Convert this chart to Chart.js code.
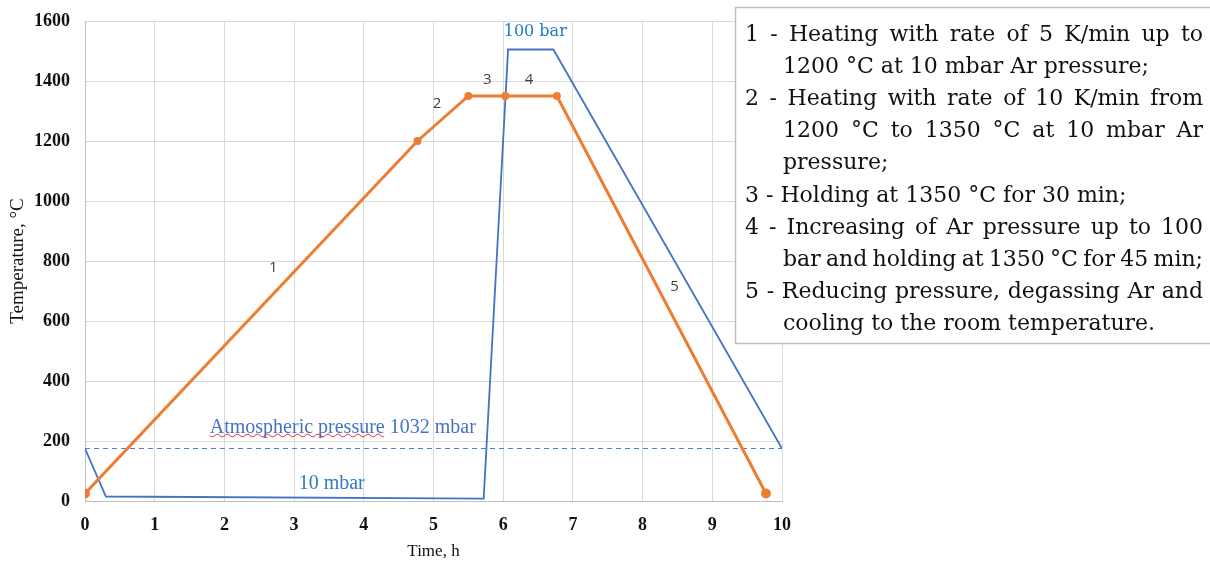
<!DOCTYPE html>
<html>
<head>
<meta charset="utf-8">
<script src="https://cdn.jsdelivr.net/npm/chart.js@4.4.1/dist/chart.umd.min.js"></script>
<style>
  html, body { margin: 0; padding: 0; background: #ffffff; }
  #wrap { width: 1210px; height: 562px; position: relative; }
</style>
</head>
<body>
<div id="wrap"><canvas id="c" width="1210" height="562"></canvas></div>
<script>
// ---------- data ----------
const xTicks = [0, 1, 2, 3, 4, 5, 6, 7, 8, 9, 10];
const yTicks = [0, 200, 400, 600, 800, 1000, 1200, 1400, 1600];

// temperature profile (orange)
const tempTime = [0, 4.77, 5.50, 6.03, 6.77, 9.77];
const tempValue = [25, 1200, 1350, 1350, 1350, 25];

// pressure profile (blue)
const pressTime = [0, 0.30, 5.72, 6.07, 6.72, 10];
const pressValue = [175, 15, 8, 1505, 1505, 175];

// atmospheric pressure level (dashed)
const atmTime = [0, 10];
const atmValue = [175, 175];

// stage numbers and their positions (data units)
const stageLabels = ["1", "2", "3", "4", "5"];
const stageX = [2.70, 5.05, 5.77, 6.37, 8.46];
const stageY = [777, 1324, 1404, 1404, 713];

// pressure annotations
const pressLabels = ["100 bar", "10 mbar", "Atmospheric pressure 1032 mbar"];
const pressLabelX = [6.46, 3.54, 1.79];
const pressLabelY = [1565, 59, 245];

// legend text
const legendLines = [
  "1 - Heating with rate of 5 K/min up to",
  "1200 °C at 10 mbar Ar pressure;",
  "2 - Heating with rate of 10 K/min from",
  "1200 °C to 1350 °C at 10 mbar Ar",
  "pressure;",
  "3 - Holding at 1350 °C for 30 min;",
  "4 - Increasing of Ar pressure up to 100",
  "bar and holding at 1350 °C for 45 min;",
  "5 - Reducing pressure, degassing Ar and",
  "cooling to the room temperature."
];
const legendIndent = [false, true, false, true, true, false, false, true, false, true];
const legendJustify = [true, false, true, true, false, false, true, true, true, false];

const toPts = (xs, ys) => xs.map((x, i) => ({ x: x, y: ys[i] }));

const SERIF = "'Liberation Serif', 'Times New Roman', serif";
const LEG_FONT = "'DejaVu Serif', serif";

const annotationPlugin = {
  id: 'annotations',
  afterDatasetsDraw(chart) {
    const ctx = chart.ctx;
    const xs = chart.scales.x, ys = chart.scales.y;
    ctx.save();
    // stage numbers
    ctx.font = "15px 'Open Sans', 'Liberation Sans', sans-serif";
    ctx.fillStyle = '#404040';
    ctx.textAlign = 'center';
    ctx.textBaseline = 'middle';
    stageLabels.forEach((t, i) => {
      ctx.fillText(t, xs.getPixelForValue(stageX[i]), ys.getPixelForValue(stageY[i]));
    });
    // 100 bar
    ctx.font = "16px " + LEG_FONT;
    ctx.fillStyle = '#1f78c8';
    ctx.fillText(pressLabels[0], xs.getPixelForValue(pressLabelX[0]), ys.getPixelForValue(pressLabelY[0]));
    // 10 mbar
    ctx.font = "20px " + SERIF;
    ctx.fillStyle = '#2e7bc4';
    ctx.fillText(pressLabels[1], xs.getPixelForValue(pressLabelX[1]), ys.getPixelForValue(pressLabelY[1]));
    // atmospheric
    ctx.textAlign = 'left';
    ctx.fillStyle = '#4472c4';
    const ax = xs.getPixelForValue(pressLabelX[2]);
    const ay = ys.getPixelForValue(pressLabelY[2]);
    ctx.fillText(pressLabels[2], ax, ay);
    // red wavy spell-check underline under the first two words
    const wavyW = ctx.measureText("Atmospheric pressure").width;
    ctx.strokeStyle = '#e02020';
    ctx.lineWidth = 1;
    ctx.beginPath();
    const wy = ay + 8;
    for (let px = 0; px <= wavyW; px += 1) {
      const yy = wy + 1.3 * Math.sin(px / 1.6);
      if (px === 0) ctx.moveTo(ax + px, yy); else ctx.lineTo(ax + px, yy);
    }
    ctx.stroke();
    ctx.restore();
  },
  afterDraw(chart) {
    const ctx = chart.ctx;
    ctx.save();
    // legend box
    const bx = 735.5, by = 7.5, bw = 480, bh = 336;
    ctx.fillStyle = '#ffffff';
    ctx.fillRect(bx, by, bw, bh);
    ctx.strokeStyle = '#bfbfbf';
    ctx.lineWidth = 1.5;
    ctx.strokeRect(bx, by, bw, bh);
    ctx.font = "22px " + LEG_FONT;
    ctx.fillStyle = '#111111';
    ctx.textBaseline = 'alphabetic';
    ctx.textAlign = 'left';
    const left0 = 745, left1 = 783, right = 1203;
    legendLines.forEach((line, i) => {
      const x0 = legendIndent[i] ? left1 : left0;
      const y = 41 + i * 32.1;
      if (legendJustify[i]) {
        const words = line.split(' ');
        const widths = words.map(w => ctx.measureText(w).width);
        const total = widths.reduce((a, b) => a + b, 0);
        const gap = (right - x0 - total) / (words.length - 1);
        let x = x0;
        words.forEach((w, k) => { ctx.fillText(w, x, y); x += widths[k] + gap; });
      } else {
        ctx.fillText(line, x0, y);
      }
    });
    ctx.restore();
  }
};

new Chart(document.getElementById('c'), {
  type: 'scatter',
  data: {
    datasets: [
      {
        label: 'Atmospheric pressure',
        data: toPts(atmTime, atmValue),
        showLine: true,
        borderColor: '#4a7fd6',
        borderWidth: 1.2,
        borderDash: [5, 4],
        pointRadius: 0,
        order: 3
      },
      {
        label: 'Pressure',
        data: toPts(pressTime, pressValue),
        showLine: true,
        borderColor: '#4472c4',
        borderWidth: 1.8,
        pointRadius: 0,
        order: 2
      },
      {
        label: 'Temperature',
        data: toPts(tempTime, tempValue),
        showLine: true,
        borderColor: '#ed7d31',
        backgroundColor: '#ed7d31',
        borderWidth: 3,
        pointRadius: [5, 4, 4, 4, 4, 5],
        pointBorderWidth: 0,
        pointBackgroundColor: '#ed7d31',
        order: 1
      }
    ]
  },
  options: {
    responsive: false,
    animation: false,
    devicePixelRatio: 1,
    layout: { padding: { left: 0, top: 21, right: 428, bottom: 0 } },
    plugins: {
      legend: { display: false },
      tooltip: { enabled: false }
    },
    scales: {
      x: {
        type: 'linear',
        min: xTicks[0],
        max: xTicks[xTicks.length - 1],
        afterFit(scale) { scale.height = 61; scale.paddingLeft = 0; scale.paddingRight = 0; },
        afterBuildTicks(scale) { scale.ticks = xTicks.map(v => ({ value: v })); },
        grid: { color: '#d9d9d9', lineWidth: 1, drawTicks: false },
        border: { color: '#bfbfbf', width: 1 },
        ticks: {
          padding: 14,
          color: '#111',
          callback: v => String(v),
          font: { family: SERIF, size: 18, weight: 'bold' }
        },
        title: {
          display: true,
          text: 'Time, h',
          color: '#111',
          padding: 0,
          font: { family: SERIF, size: 17 }
        }
      },
      y: {
        type: 'linear',
        min: yTicks[0],
        max: yTicks[yTicks.length - 1],
        afterFit(scale) { scale.width = 85; scale.paddingTop = 0; scale.paddingBottom = 0; },
        afterBuildTicks(scale) { scale.ticks = yTicks.map(v => ({ value: v })); },
        grid: { color: '#d9d9d9', lineWidth: 1, drawTicks: false },
        border: { color: '#bfbfbf', width: 1 },
        ticks: {
          padding: 15,
          color: '#111',
          callback: v => String(v),
          font: { family: SERIF, size: 18, weight: 'bold' }
        },
        title: {
          display: true,
          text: 'Temperature, °C',
          color: '#111',
          padding: { top: 7, bottom: 0 },
          font: { family: SERIF, size: 19 }
        }
      }
    }
  },
  plugins: [annotationPlugin]
});
</script>
</body>
</html>
